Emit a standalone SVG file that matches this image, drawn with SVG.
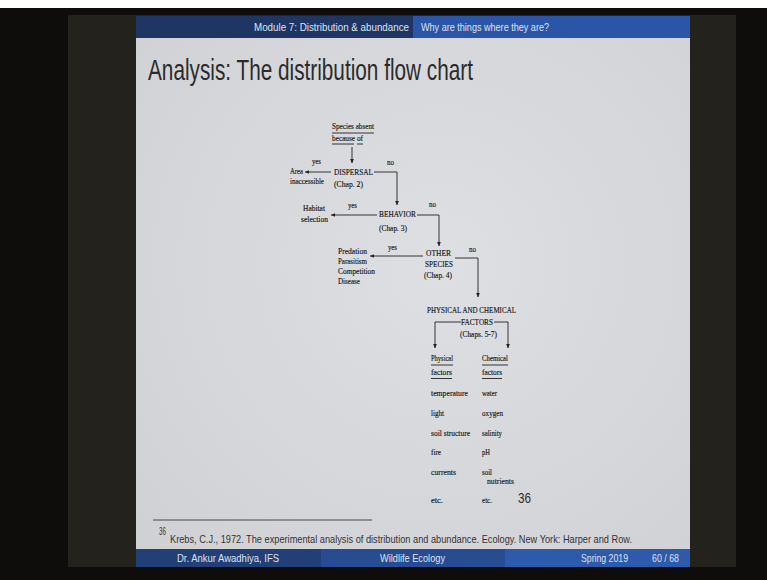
<svg xmlns="http://www.w3.org/2000/svg" width="767" height="580" viewBox="0 0 767 580">
  <defs>
    <marker id="arrow" viewBox="0 0 8 8" refX="7.5" refY="4" markerWidth="4.5" markerHeight="4.5" orient="auto" markerUnits="userSpaceOnUse">
      <path d="M0,0.5 L8,4 L0,7.5 Z" fill="#222"/>
    </marker>
    <radialGradient id="slideLight" cx="0.55" cy="0.45" r="0.75">
      <stop offset="0" stop-color="#dedfe2"/>
      <stop offset="1" stop-color="#d0d1d4"/>
    </radialGradient>
    <style>
      .bar { font-family: "Liberation Sans", Arial, sans-serif; font-size: 10.5px; fill: #dfe3ec; }
      .title { font-family: "Liberation Sans", Arial, sans-serif; font-size: 29px; fill: #2b2b2b; }
      .foot { font-family: "Liberation Sans", Arial, sans-serif; font-size: 11px; fill: #333; }
      .fc { font-family: "Liberation Serif", "Times New Roman", serif; font-size: 8.5px; fill: #141414; stroke: #141414; stroke-width: 0.15; }
      .big { font-family: "Liberation Sans", Arial, sans-serif; font-size: 15px; fill: #2a2a2a; }
      .ul { stroke: #222; stroke-width: 0.9; fill: none; }
      .conn { stroke: #222; stroke-width: 0.9; fill: none; }
      .arr { marker-end: url(#arrow); }
    </style>
  </defs>

  <!-- room and projection screen -->
  <rect x="0" y="0" width="767" height="580" fill="#0f0d0c"/>
  <rect x="0" y="0" width="767" height="8" fill="#ffffff"/>
  <rect x="68" y="15" width="668" height="552" fill="#23221d"/>

  <!-- slide body -->
  <rect x="136" y="16" width="554" height="551" fill="url(#slideLight)"/>

  <!-- header bar -->
  <rect x="136" y="16" width="277" height="22" fill="#1f3564"/>
  <rect x="413" y="16" width="277" height="22" fill="#2b55a6"/>
  <text class="bar" x="254" y="31" textLength="155" lengthAdjust="spacingAndGlyphs">Module 7: Distribution &amp; abundance</text>
  <text class="bar" x="421" y="31" textLength="128" lengthAdjust="spacingAndGlyphs">Why are things where they are?</text>

  <!-- title -->
  <text class="title" x="148" y="80" textLength="325" lengthAdjust="spacingAndGlyphs">Analysis: The distribution flow chart</text>

  <!-- connectors -->
  <g id="connectors">
    <line class="conn arr" x1="352" y1="147" x2="352" y2="163"/>
    <line class="conn arr" x1="331" y1="172" x2="305" y2="172"/>
    <polyline class="conn arr" points="374,172 397,172 397,205"/>
    <line class="conn arr" x1="377" y1="215" x2="331" y2="215"/>
    <polyline class="conn arr" points="417,215 439,215 439,246"/>
    <line class="conn arr" x1="423" y1="256" x2="370" y2="256"/>
    <polyline class="conn arr" points="455,258 478,258 478,297"/>
    <polyline class="conn arr" points="461,322 435,322 435,348"/>
    <polyline class="conn arr" points="494,322 508,322 508,348"/>
  </g>

  <!-- flow chart nodes -->
  <g id="start">
    <text class="fc" x="332" y="129" textLength="42" lengthAdjust="spacingAndGlyphs">Species absent</text>
    <line class="ul" x1="332" y1="133" x2="374" y2="133"/>
    <text class="fc" x="332" y="141" textLength="31" lengthAdjust="spacingAndGlyphs">because of</text>
    <line class="ul" x1="332" y1="144" x2="354" y2="144"/>
    <line class="ul" x1="357" y1="144" x2="363" y2="144"/>
  </g>

  <g id="dispersal">
    <text class="fc" x="334" y="175" textLength="39" lengthAdjust="spacingAndGlyphs">DISPERSAL</text>
    <text class="fc" x="334" y="187" textLength="29" lengthAdjust="spacingAndGlyphs">(Chap. 2)</text>
  </g>
  <g id="dispersal-yes">
    <text class="fc" x="312" y="164" textLength="9" lengthAdjust="spacingAndGlyphs">yes</text>
  </g>
  <g id="dispersal-no">
    <text class="fc" x="387" y="165" textLength="7" lengthAdjust="spacingAndGlyphs">no</text>
  </g>
  <g id="area-inaccessible">
    <text class="fc" x="290" y="174" textLength="13" lengthAdjust="spacingAndGlyphs">Area</text>
    <text class="fc" x="290" y="184" textLength="34" lengthAdjust="spacingAndGlyphs">inaccessible</text>
  </g>

  <g id="behavior">
    <text class="fc" x="379" y="217" textLength="37" lengthAdjust="spacingAndGlyphs">BEHAVIOR</text>
    <text class="fc" x="379" y="231" textLength="28" lengthAdjust="spacingAndGlyphs">(Chap. 3)</text>
  </g>
  <g id="behavior-yes">
    <text class="fc" x="348" y="208" textLength="9" lengthAdjust="spacingAndGlyphs">yes</text>
  </g>
  <g id="behavior-no">
    <text class="fc" x="429" y="207" textLength="7" lengthAdjust="spacingAndGlyphs">no</text>
  </g>
  <g id="habitat-selection">
    <text class="fc" x="303" y="211" textLength="22" lengthAdjust="spacingAndGlyphs">Habitat</text>
    <text class="fc" x="301" y="222" textLength="27" lengthAdjust="spacingAndGlyphs">selection</text>
  </g>

  <g id="other-species">
    <text class="fc" x="426" y="256" textLength="25" lengthAdjust="spacingAndGlyphs">OTHER</text>
    <text class="fc" x="425" y="267" textLength="28" lengthAdjust="spacingAndGlyphs">SPECIES</text>
    <text class="fc" x="424" y="278" textLength="28" lengthAdjust="spacingAndGlyphs">(Chap. 4)</text>
  </g>
  <g id="other-yes">
    <text class="fc" x="388" y="250" textLength="9" lengthAdjust="spacingAndGlyphs">yes</text>
  </g>
  <g id="other-no">
    <text class="fc" x="469" y="252" textLength="7" lengthAdjust="spacingAndGlyphs">no</text>
  </g>
  <g id="interactions">
    <text class="fc" x="338" y="254" textLength="29" lengthAdjust="spacingAndGlyphs">Predation</text>
    <text class="fc" x="338" y="264" textLength="29" lengthAdjust="spacingAndGlyphs">Parasitism</text>
    <text class="fc" x="338" y="274" textLength="37" lengthAdjust="spacingAndGlyphs">Competition</text>
    <text class="fc" x="338" y="284" textLength="22" lengthAdjust="spacingAndGlyphs">Disease</text>
  </g>

  <g id="physical-chemical">
    <text class="fc" x="427" y="313" textLength="89" lengthAdjust="spacingAndGlyphs">PHYSICAL AND CHEMICAL</text>
    <text class="fc" x="461" y="325" textLength="32" lengthAdjust="spacingAndGlyphs">FACTORS</text>
    <text class="fc" x="460" y="337" textLength="37" lengthAdjust="spacingAndGlyphs">(Chaps. 5-7)</text>
  </g>

  <g id="physical-factors">
    <text class="fc" x="431" y="361" textLength="22" lengthAdjust="spacingAndGlyphs">Physical</text>
    <line class="ul" x1="431" y1="365" x2="453" y2="365"/>
    <text class="fc" x="431" y="375" textLength="21" lengthAdjust="spacingAndGlyphs">factors</text>
    <line class="ul" x1="431" y1="378.5" x2="452" y2="378.5"/>
    <text class="fc" x="431" y="396" textLength="37" lengthAdjust="spacingAndGlyphs">temperature</text>
    <text class="fc" x="431" y="416" textLength="13" lengthAdjust="spacingAndGlyphs">light</text>
    <text class="fc" x="431" y="436" textLength="39" lengthAdjust="spacingAndGlyphs">soil structure</text>
    <text class="fc" x="431" y="455" textLength="10" lengthAdjust="spacingAndGlyphs">fire</text>
    <text class="fc" x="431" y="475" textLength="25" lengthAdjust="spacingAndGlyphs">currents</text>
    <text class="fc" x="431" y="503" textLength="12" lengthAdjust="spacingAndGlyphs">etc.</text>
  </g>

  <g id="chemical-factors">
    <text class="fc" x="482" y="361" textLength="26" lengthAdjust="spacingAndGlyphs">Chemical</text>
    <line class="ul" x1="482" y1="365" x2="508" y2="365"/>
    <text class="fc" x="482" y="375" textLength="20" lengthAdjust="spacingAndGlyphs">factors</text>
    <line class="ul" x1="482" y1="378.5" x2="502" y2="378.5"/>
    <text class="fc" x="482" y="396" textLength="15" lengthAdjust="spacingAndGlyphs">water</text>
    <text class="fc" x="482" y="416" textLength="21" lengthAdjust="spacingAndGlyphs">oxygen</text>
    <text class="fc" x="482" y="436" textLength="20" lengthAdjust="spacingAndGlyphs">salinity</text>
    <text class="fc" x="482" y="455" textLength="8" lengthAdjust="spacingAndGlyphs">pH</text>
    <text class="fc" x="482" y="475" textLength="10" lengthAdjust="spacingAndGlyphs">soil</text>
    <text class="fc" x="487" y="484" textLength="27" lengthAdjust="spacingAndGlyphs">nutrients</text>
    <text class="fc" x="482" y="503" textLength="10" lengthAdjust="spacingAndGlyphs">etc.</text>
  </g>

  <!-- page number of the printed figure -->
  <text class="big" x="518" y="503" textLength="13" lengthAdjust="spacingAndGlyphs">36</text>

  <!-- footnote -->
  <line x1="153" y1="520" x2="372" y2="520" stroke="#3a3a3a" stroke-width="0.9"/>
  <text class="foot" x="159" y="535" font-size="6.5" textLength="7" lengthAdjust="spacingAndGlyphs">36</text>
  <text class="foot" x="170" y="543" textLength="462" lengthAdjust="spacingAndGlyphs">Krebs, C.J., 1972. The experimental analysis of distribution and abundance. Ecology. New York: Harper and Row.</text>

  <!-- footer bar -->
  <rect x="136" y="549" width="185" height="18" fill="#233f78"/>
  <rect x="321" y="549" width="184" height="18" fill="#284c92"/>
  <rect x="505" y="549" width="185" height="18" fill="#2d5aaa"/>
  <text class="bar" x="177" y="562" font-size="11" textLength="102" lengthAdjust="spacingAndGlyphs">Dr. Ankur Awadhiya, IFS</text>
  <text class="bar" x="380" y="562" font-size="11" textLength="65" lengthAdjust="spacingAndGlyphs">Wildlife Ecology</text>
  <text class="bar" x="581" y="562" font-size="11" textLength="47" lengthAdjust="spacingAndGlyphs">Spring 2019</text>
  <text class="bar" x="652" y="562" font-size="11" textLength="27" lengthAdjust="spacingAndGlyphs">60 / 68</text>
</svg>
